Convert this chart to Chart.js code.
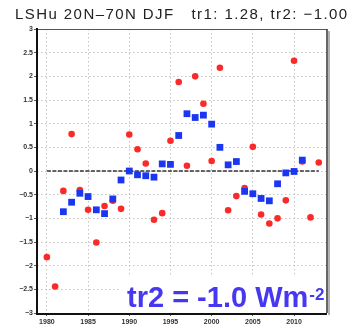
<!DOCTYPE html>
<html>
<head>
<meta charset="utf-8">
<script src="https://cdn.jsdelivr.net/npm/chart.js@4/dist/chart.umd.min.js"></script>
<style>
html,body{margin:0;padding:0;background:#fff;}
#wrap{width:352px;height:331px;}
</style>
</head>
<body>
<div id="wrap"><canvas id="c" width="352" height="331"></canvas></div>
<script>
// ---- data ----
const titleText = "LSHu 20N\u201370N DJF   tr1: 1.28, tr2: \u22121.00";
const noteMain = "tr2 = -1.0 Wm";
const noteSup = "-2";
const years = [1980,1981,1982,1983,1984,1985,1986,1987,1988,1989,1990,1991,1992,1993,1994,1995,1996,1997,1998,1999,2000,2001,2002,2003,2004,2005,2006,2007,2008,2009,2010,2011,2012,2013];
const annualValues = [-1.82,-2.44,-0.42,0.78,-0.40,-0.82,-1.51,-0.74,-0.63,-0.80,0.77,0.46,0.16,-1.03,-0.89,0.64,1.88,0.11,2.00,1.42,0.21,2.18,-0.83,-0.53,-0.36,0.51,-0.92,-1.11,-1.00,-0.62,2.33,0.20,-0.98,0.18];
const meanYears = [1982,1983,1984,1985,1986,1987,1988,1989,1990,1991,1992,1993,1994,1995,1996,1997,1998,1999,2000,2001,2002,2003,2004,2005,2006,2007,2008,2009,2010,2011];
const meanValues = [-0.86,-0.66,-0.47,-0.54,-0.82,-0.90,-0.59,-0.19,0.00,-0.08,-0.10,-0.13,0.15,0.14,0.75,1.21,1.13,1.18,0.99,0.50,0.13,0.20,-0.43,-0.48,-0.58,-0.63,-0.27,-0.04,-0.01,0.23];
const zeroLineYears = [1980, 2013];
const zeroLineValues = [0, 0];
const yTickMin = -3, yTickMax = 3, yTickStep = 0.5;
const xTickStep = 5;

const toXY = (xs, ys) => xs.map((x, i) => ({x: x, y: ys[i]}));

const framePlugin = {
  id: 'frame',
  beforeDatasetsDraw(chart) {
    const {ctx, chartArea: a} = chart;
    ctx.save();
    ctx.setLineDash([]);
    // top border
    ctx.strokeStyle = '#555';
    ctx.lineWidth = 1;
    ctx.beginPath(); ctx.moveTo(a.left, a.top + 0.5); ctx.lineTo(a.right, a.top + 0.5); ctx.stroke();
    // right border with shadow
    ctx.strokeStyle = '#999';
    ctx.lineWidth = 1.5;
    ctx.beginPath(); ctx.moveTo(a.right + 2, a.top + 2); ctx.lineTo(a.right + 2, a.bottom + 2); ctx.stroke();
    ctx.strokeStyle = '#333';
    ctx.lineWidth = 1.5;
    ctx.beginPath(); ctx.moveTo(a.right, a.top); ctx.lineTo(a.right, a.bottom); ctx.stroke();
    // left and bottom axes
    ctx.strokeStyle = '#111';
    ctx.lineWidth = 2;
    ctx.beginPath(); ctx.moveTo(a.left, a.top - 1); ctx.lineTo(a.left, a.bottom + 1); ctx.lineTo(a.right, a.bottom + 1); ctx.stroke();
    ctx.restore();
  },
  afterDraw(chart) {
    const {ctx, chartArea: a} = chart;
    ctx.save();
    // title
    ctx.fillStyle = '#222';
    ctx.font = '15px "Liberation Sans", Arial, sans-serif';
    ctx.textBaseline = 'alphabetic';
    ctx.textAlign = 'left';
    const target = 332;
    const w = ctx.measureText(titleText).width;
    if ('letterSpacing' in ctx) {
      ctx.letterSpacing = ((target - w) / (titleText.length - 1)).toFixed(2) + 'px';
    }
    ctx.fillText(titleText, 15, 19);
    if ('letterSpacing' in ctx) ctx.letterSpacing = '0px';
    // annotation with white background
    ctx.fillStyle = '#fff';
    ctx.fillRect(121, 276, a.right - 122, a.bottom - 277);
    ctx.fillStyle = '#4637f0';
    ctx.font = 'bold 29px "Liberation Sans", Arial, sans-serif';
    ctx.fillText(noteMain, 127, 307);
    const mw = ctx.measureText(noteMain).width;
    ctx.font = 'bold 17px "Liberation Sans", Arial, sans-serif';
    ctx.fillText(noteSup, 127 + mw + 1, 300);
    ctx.restore();
  }
};

new Chart(document.getElementById('c'), {
  type: 'scatter',
  data: {
    datasets: [
      {
        label: '5-yr mean',
        data: toXY(meanYears, meanValues),
        pointStyle: 'rect',
        pointRadius: 4.8,
        backgroundColor: '#1a36f0',
        borderColor: '#1a36f0',
        borderWidth: 0,
        order: 0
      },
      {
        label: 'annual',
        data: toXY(years, annualValues),
        pointStyle: 'circle',
        pointRadius: 3.3,
        backgroundColor: '#fb2a2a',
        borderColor: '#fb2a2a',
        borderWidth: 0,
        order: 1
      },
      {
        type: 'line',
        label: 'zero',
        data: toXY(zeroLineYears, zeroLineValues),
        borderColor: '#333',
        borderWidth: 1.6,
        borderDash: [4, 1.5],
        pointRadius: 0,
        fill: false,
        order: 2
      }
    ]
  },
  options: {
    responsive: false,
    animation: false,
    events: [],
    layout: {padding: {top: 29, left: 0, right: 25, bottom: 0}},
    plugins: {legend: {display: false}, tooltip: {enabled: false}, title: {display: false}},
    scales: {
      x: {
        type: 'linear',
        min: 1978.8,
        max: 2014,
        afterFit(s) { s.height = 18; },
        ticks: {
          stepSize: xTickStep,
          includeBounds: false,
          autoSkip: false,
          maxRotation: 0,
          padding: 2,
          color: '#333',
          font: {family: '"Liberation Sans", Arial, sans-serif', size: 7, weight: 'bold'},
          callback: v => String(v)
        },
        grid: {color: '#c4c4c4', lineWidth: 1, tickLength: 3, tickColor: '#555', drawTicks: true},
        border: {display: false, dash: [1.5, 2.5]}
      },
      y: {
        min: yTickMin,
        max: yTickMax,
        afterFit(s) { s.width = 37; },
        ticks: {
          stepSize: yTickStep,
          includeBounds: false,
          autoSkip: false,
          padding: 1,
          color: '#333',
          font: {family: '"Liberation Sans", Arial, sans-serif', size: 7, weight: 'bold'},
          callback: v => String(v).replace('-', '\u2212')
        },
        grid: {color: '#c4c4c4', lineWidth: 1, tickLength: 3, tickColor: '#555', drawTicks: true},
        border: {display: false, dash: [1.5, 2.5]}
      }
    }
  },
  plugins: [framePlugin]
});
</script>
</body>
</html>
